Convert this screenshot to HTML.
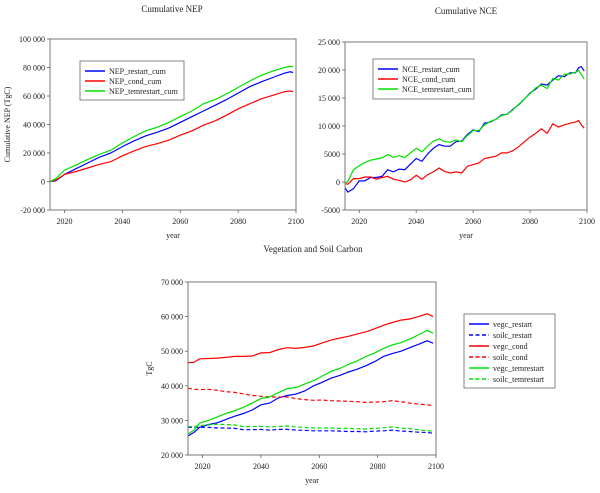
<!DOCTYPE html>
<html><head><meta charset="utf-8"><style>
html,body{margin:0;padding:0;background:#fff;}
svg{display:block;font-family:"Liberation Serif",serif;}
</style></head><body>
<svg id="s" width="600" height="493" viewBox="0 0 600 493"></svg>
<script>
const nepYears=[2015,2017,2020,2024,2028,2032,2036,2040,2044,2048,2052,2056,2060,2064,2068,2072,2076,2080,2084,2088,2092,2096,2098,2099];
const nepRestart=[0,500,5000,9000,13000,17000,20000,24500,28500,32000,34500,37500,41500,45500,49500,53500,57500,62000,66500,70000,73000,76000,77000,76500];
const nepCond=[0,1000,5000,7000,9500,12000,14000,18000,21500,24500,26500,29000,32500,35500,39500,42500,46500,51000,54500,58000,60500,63000,63500,63000];
const nepTem=[0,2000,8000,11500,15500,19000,22000,27000,31500,35500,38000,41500,45500,49500,54500,57500,61500,66000,70500,74500,77500,80000,80800,80500];
const nceYears=[2015,2016,2018,2020,2022,2024,2026,2028,2030,2032,2034,2036,2038,2040,2042,2044,2046,2048,2050,2052,2054,2056,2058,2060,2062,2064,2066,2068,2070,2072,2074,2076,2078,2080,2082,2084,2086,2088,2090,2092,2094,2096,2097,2098,2099];
const nceRestart=[-1000,-1800,-1200,200,200,800,800,1000,2200,1800,2300,2200,3200,4200,3700,5000,6000,6700,6400,6400,7200,7300,8500,9300,9000,10500,10700,11200,12000,12100,13000,13800,14800,15900,16600,17500,17300,18200,19000,18800,19500,19500,20400,20600,19800];
const nceCond=[-300,-400,600,600,900,900,500,800,1000,500,300,0,400,1200,500,1300,1800,2500,1900,1600,1800,1600,2800,3100,3400,4200,4400,4600,5200,5200,5600,6300,7200,8000,8700,9500,8700,10400,9800,10200,10500,10700,11000,10200,9600];
const nceTem=[-300,100,2200,2900,3500,3900,4100,4300,4900,4400,4700,4400,5200,6000,5400,6400,7300,7700,7200,7100,7500,7200,8300,9200,9200,10200,10800,11200,11900,12100,12900,13900,14800,15800,16800,17300,16700,18500,18200,19200,19300,19600,19900,19200,18400];
const vegYears=[2015,2017,2019,2022,2025,2028,2031,2034,2037,2040,2043,2046,2049,2052,2055,2058,2061,2064,2067,2070,2073,2076,2079,2082,2085,2088,2091,2094,2097,2099];
const vegcRestart=[25500,26500,28000,28800,29300,30300,31200,32000,33000,34500,35000,36500,37200,37600,38500,40000,41000,42200,43000,44000,44800,45800,47000,48500,49300,50000,51000,52000,53000,52300];
const soilcRestart=[28000,28000,28000,28000,27800,27800,27700,27300,27300,27400,27200,27400,27400,27200,27100,27000,27000,27000,26900,26800,26800,26700,26900,27000,27200,26900,26800,26600,26500,26300];
const vegcCond=[46700,46800,47800,47900,48000,48200,48500,48500,48600,49500,49600,50500,51000,50800,51100,51500,52400,53200,53800,54300,55000,55600,56500,57500,58300,59000,59300,60000,60800,60000];
const soilcCond=[39300,39000,38900,39000,38700,38300,38100,37700,37200,37000,36800,36700,36800,36300,36000,35800,35900,35700,35600,35500,35400,35200,35300,35400,35700,35400,35000,34700,34500,34300];
const vegcTem=[26000,27200,29200,30000,31000,32000,32800,33800,35000,36300,36800,38000,39200,39500,40500,41500,42800,44200,45000,46200,47200,48500,49500,50800,51800,52500,53500,54700,56000,55200];
const soilcTem=[28200,28200,28500,28700,28900,28800,28700,28200,28200,28300,28100,28200,28400,28100,28000,27800,27800,27800,27700,27700,27600,27500,27700,27900,28100,27800,27600,27300,27000,26900];
const xTicks=[2020,2040,2060,2080,2100];
const nepTicks=[-20000,0,20000,40000,60000,80000,100000];
const nceTicks=[-5000,0,5000,10000,15000,20000,25000];
const vegTicks=[20000,30000,40000,50000,60000,70000];

const S=document.getElementById('s');const NS='http://www.w3.org/2000/svg';
function mk(t,a,p){const e=document.createElementNS(NS,t);for(const k in a)e.setAttribute(k,a[k]);(p||S).appendChild(e);return e;}
function fmt(v){const a=Math.abs(v);let s=a>=10000?String(a).replace(/\B(?=(\d{3})+(?!\d))/g,' '):String(a);return (v<0?'-':'')+s;}
function txt(x,y,s,o,name){const e=mk('text',Object.assign({x:x,y:y,'font-size':8,fill:'#222'},o||{}));e.textContent=s;

return e;}
function chart(c){
 const g=mk('g',{});
 
 
 const X=v=>c.l+(v-2015)/(2100-2015)*(c.r-c.l);
 const Y=v=>c.b-(v-c.ymin)/(c.ymax-c.ymin)*(c.b-c.t);
 for(const t of c.yt){const y=Y(t);mk('line',{x1:c.l-3,x2:c.l,y1:y,y2:y,stroke:'#444','stroke-width':0.7},g);
  txt(c.l-5,y+3,fmt(t),{'text-anchor':'end'},'y-tick-label');}
 for(const t of xTicks){const x=X(t);mk('line',{x1:x,x2:x,y1:c.b,y2:c.b+3,stroke:'#444','stroke-width':0.7},g);
  txt(x,c.b+14,String(t),{'text-anchor':'middle'},'x-tick-label');}
 for(const s of c.series){const d=s.v.map((v,i)=>(i?'L':'M')+X(c.years[i]).toFixed(1)+' '+Y(v).toFixed(1)).join(' ');
  const p=mk('path',Object.assign({d:d,fill:'none',stroke:s.c,'stroke-width':1.2},s.dash?{'stroke-dasharray':'4 2.5'}:{}),g);
  
  }
 const fr=mk('rect',{x:c.l,y:c.t,width:c.r-c.l,height:c.b-c.t,fill:'none',stroke:'#777','stroke-width':1},g);
 
 
 txt(c.tx,c.ty,c.title,{'text-anchor':'middle','font-size':9},'chart-title');
 txt((c.l+c.r)/2,c.b+28,'year',{'text-anchor':'middle'},'x-axis-title');
 if(c.ylab){const e=txt(0,0,c.ylab,{'text-anchor':'middle',transform:`translate(${c.yx},${(c.t+c.b)/2}) rotate(-90)`},'y-axis-title');}
 const L=c.leg;const lg=mk('g',{},g);
 
 
 mk('rect',{x:L.x,y:L.y,width:L.w,height:L.h,fill:'#fff',stroke:'#666','stroke-width':0.8},lg);
 c.series.forEach((s,i)=>{const y=L.y+L.p+i*L.dy;
  mk('line',Object.assign({x1:L.x+5,x2:L.x+5+L.ll,y1:y,y2:y,stroke:s.c,'stroke-width':1.5},s.dash?{'stroke-dasharray':'4 2.5'}:{}),lg);
  txt(L.x+9+L.ll,y+3,s.n,{},'legend-entry');});
}
chart({name:'cumulative-nep-chart',l:50,r:296,t:39,b:210,ymin:-20000,ymax:100000,yt:nepTicks,years:nepYears,
 title:'Cumulative NEP',tx:172,ty:12,ylab:'Cumulative NEP (TgC)',yx:10,
 series:[{n:'NEP_restart_cum',c:'#0000ff',v:nepRestart},{n:'NEP_cond_cum',c:'#ff0000',v:nepCond},{n:'NEP_temrestart_cum',c:'#00e000',v:nepTem}],
 leg:{x:80,y:61,w:104,h:39,p:10,dy:10,ll:20}});
chart({name:'cumulative-nce-chart',l:345,r:587,t:42,b:210,ymin:-5000,ymax:25000,yt:nceTicks,years:nceYears,
 title:'Cumulative NCE',tx:466,ty:14,
 series:[{n:'NCE_restart_cum',c:'#0000ff',v:nceRestart},{n:'NCE_cond_cum',c:'#ff0000',v:nceCond},{n:'NCE_temrestart_cum',c:'#00e000',v:nceTem}],
 leg:{x:373,y:59,w:101,h:40,p:10,dy:10,ll:20}});
chart({name:'veg-soil-carbon-chart',l:188,r:436,t:282,b:455,ymin:20000,ymax:70000,yt:vegTicks,years:vegYears,
 title:'Vegetation and Soil Carbon',tx:313,ty:252,ylab:'TgC',yx:152,
 series:[{n:'vegc_restart',c:'#0000ff',v:vegcRestart},{n:'soilc_restart',c:'#0000ff',v:soilcRestart,dash:1},
 {n:'vegc_cond',c:'#ff0000',v:vegcCond},{n:'soilc_cond',c:'#ff0000',v:soilcCond,dash:1},
 {n:'vegc_temrestart',c:'#00e000',v:vegcTem},{n:'soilc_temrestart',c:'#00e000',v:soilcTem,dash:1}],
 leg:{x:464,y:314,w:91,h:74,p:10,dy:11,ll:20}});
</script>
</body></html>
